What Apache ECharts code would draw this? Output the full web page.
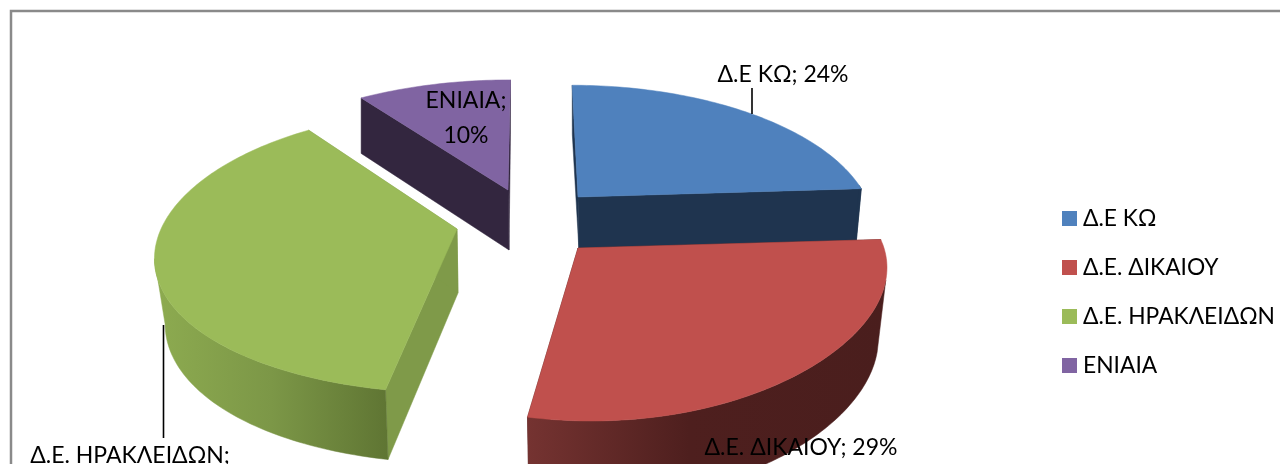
<!DOCTYPE html>
<html><head><meta charset="utf-8">
<style>html,body{margin:0;padding:0;background:#fff;overflow:hidden}#c{width:1280px;height:464px}</style>
<script src="https://cdn.jsdelivr.net/npm/echarts@6/dist/echarts.min.js"></script>
</head><body><div id="c"></div>
<script>
const categories = ['Δ.Ε ΚΩ', 'Δ.Ε. ΔΙΚΑΙΟΥ', 'Δ.Ε. ΗΡΑΚΛΕΙΔΩΝ', 'ΕΝΙΑΙΑ'];
const shares = [24, 29, 37, 10];
const FONT = 'Lato', FS = 23;

const topColors = ['#4f81bd', '#c0504d', '#9bbb59', '#8064a2'];
const grad = (stops) => new echarts.graphic.LinearGradient(0, 0, 1, 0, stops.map((c) => ({offset: c[0], color: c[1]})));
const sideStyles = [
  {radial: '#1f344f', outer: '#1f344f'},
  {radial: '#4a1e1d', outer: grad([[0, '#753331'], [0.45, '#4e1f1e'], [1, '#4a1e1d']])},
  {radial: '#7f9a49', outer: grad([[0, '#8dab50'], [0.5, '#7c9747'], [1, '#5f7533']])},
  {radial: '#33263f', outer: '#33263f'}
];
// view of each exploded slice: apex, radii, perspective, shear, thickness, bottom shrink, visible outer-wall range (deg)
const views = [
  {cx: 578, cy: 197, rx: 288, ry: 135, k: .208, kx: .208, sx: -7, d: 54, sh: .982, wall: [85, 87]},
  {cx: 578, cy: 248, rx: 306, ry: 137, k: .208, kx: .1, sx: -12, d: 70, sh: .972, wall: [103, 280]},
  {cx: 457, cy: 229, rx: 296, ry: 138, k: .16, kx: .2, sx: 2, d: 64, sh: .965, wall: [80, 258]},
  {cx: 508, cy: 190, rx: 296, ry: 133, k: .208, kx: .208, sx: 3, d: 60, sh: 1, wall: [80, 280]}
];
const labelPos = [
  {x: 783, y: 75, align: 'center', lead: [752, 88, 752, 114], text: (n, v) => `${n}; ${v}%`},
  {x: 801, y: 448, align: 'center', text: (n, v) => `${n}; ${v}%`},
  {x: 130, y: 456, align: 'center', lead: [163.5, 325, 163.5, 438], text: (n, v) => `${n};`},
  {x: 466, y: 118, align: 'center', text: (n, v) => `${n};\n${v}%`}
];
const zOrder = [3, 4, 2, 1];

const total = shares.reduce((a, b) => a + b, 0);
const startOf = i => shares.slice(0, i).reduce((a, b) => a + b, 0) / total * Math.PI * 2;
const rad = d => d * Math.PI / 180;

function project(v, th, bottom) {
  const s = Math.sin(th), c = Math.cos(th), w = 1 + v.k * c, wx = 1 + v.kx * c;
  let x = (v.rx * s + v.sx * c) / wx, y = -v.ry * c / w;
  if (bottom) { x *= v.sh; y += v.d / Math.sqrt(w); }
  return [v.cx + x, v.cy + y];
}
function arc(v, a, b, bottom) {
  const n = Math.max(2, Math.ceil((b - a) / .02)), pts = [];
  for (let i = 0; i <= n; i++) pts.push(project(v, a + (b - a) * i / n, bottom));
  return pts;
}
function apex(v, bottom) {
  return bottom ? [v.cx + 1, v.cy + v.d] : [v.cx, v.cy];
}

function renderSlice(i) {
  return function (params, api) {
    const value = api.value(0), v = views[i];
    const a = startOf(i), b = a + value / total * Math.PI * 2;
    const poly = (points, fill) => ({type: 'polygon', shape: {points}, style: {fill, stroke: fill, lineWidth: .5}, silent: true});
    const kids = [];
    [a, b].forEach(t => kids.push(poly([apex(v), project(v, t), project(v, t, true), apex(v, true)], sideStyles[i].radial)));
    const oa = Math.max(a, rad(v.wall[0])), ob = Math.min(b, rad(v.wall[1]));
    if (ob > oa) kids.push(poly(arc(v, oa, ob).concat(arc(v, oa, ob, true).reverse()), sideStyles[i].outer));
    kids.push(poly([apex(v)].concat(arc(v, a, b)), topColors[i]));
    const l = labelPos[i];
    if (l.lead) kids.push({type: 'line', shape: {x1: l.lead[0], y1: l.lead[1], x2: l.lead[2], y2: l.lead[3]}, style: {stroke: '#000', lineWidth: 1.6}, silent: true});
    kids.push({type: 'text', x: l.x, y: l.y, silent: true, style: {text: l.text(categories[i], value), fill: '#000', font: `${FS}px ${FONT}`, align: l.align, verticalAlign: 'middle', lineHeight: 35}});
    return {type: 'group', children: kids};
  };
}

const chart = echarts.init(document.getElementById('c'), null, {renderer: 'canvas'});
chart.setOption({
  animation: false,
  graphic: [{type: 'rect', shape: {x: 11, y: 11, width: 1320, height: 500}, style: {fill: 'none', stroke: '#8a8a8a', lineWidth: 2.5}, silent: true, z: -1}],
  legend: {
    orient: 'vertical', left: 1062, top: 207, padding: 0, itemWidth: 15, itemHeight: 15, itemGap: 26, icon: 'rect',
    selectedMode: false, data: categories,
    textStyle: {fontFamily: FONT, fontSize: 22.8, color: '#000', lineHeight: 22, padding: [0, 0, 0, 1]}
  },
  series: categories.map((name, i) => ({
    type: 'custom', name, coordinateSystem: 'none', z: zOrder[i],
    itemStyle: {color: topColors[i]}, data: [[shares[i]]], renderItem: renderSlice(i), clip: false
  }))
});
</script></body></html>
